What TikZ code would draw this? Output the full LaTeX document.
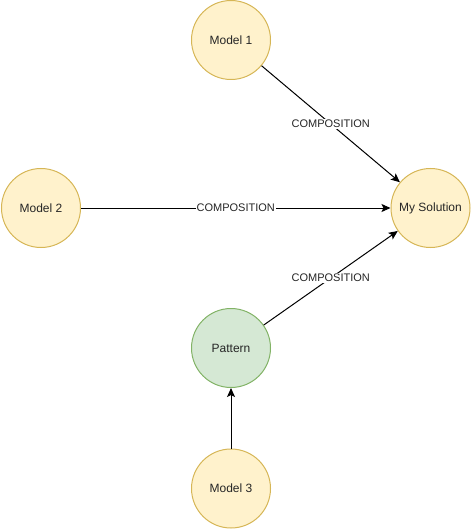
\documentclass[tikz,border=0pt]{standalone}
\usepackage{fontspec}
\setmainfont{Liberation Sans}
\usetikzlibrary{arrows.meta}
\definecolor{yfill}{HTML}{FFF2CC}
\definecolor{ydraw}{HTML}{D6B656}
\definecolor{gfill}{HTML}{D5E8D4}
\definecolor{gdraw}{HTML}{82B366}
\tikzset{
  ynode/.style={circle, draw=ydraw, fill=yfill, line width=1pt, minimum size=79pt, inner sep=0pt, font=\fontsize{12pt}{14pt}\selectfont, text=black!85},
  gnode/.style={circle, draw=gdraw, fill=gfill, line width=1pt, minimum size=79pt, inner sep=0pt, font=\fontsize{12pt}{14pt}\selectfont, text=black!85},
  conn/.style={line width=1pt, -{Stealth[length=9pt,width=8pt,inset=2pt]}},
  lbl/.style={fill=white, inner sep=1pt, font=\fontsize{11pt}{13pt}\selectfont, text=black!85}
}
\begin{document}
\begin{tikzpicture}[x=1pt,y=-1pt]
\useasboundingbox (0,0) rectangle (471,529);
\node[ynode] (m1) at (231,40) {Model 1};
\node[ynode] (m2) at (41,208) {Model 2};
\node[ynode] (sol) at (430.5,208) {My Solution};
\node[gnode] (pat) at (231,348) {Pattern};
\node[ynode] (m3) at (231,488.5) {Model 3};
\draw[conn] (m1) -- node[lbl, pos=0.5] {COMPOSITION} (sol);
\draw[conn] (m2) -- node[lbl, pos=0.5] {COMPOSITION} (sol);
\draw[conn] (pat) -- node[lbl, pos=0.5] {COMPOSITION} (sol);
\draw[conn] (m3) -- (pat);
\end{tikzpicture}
\end{document}
